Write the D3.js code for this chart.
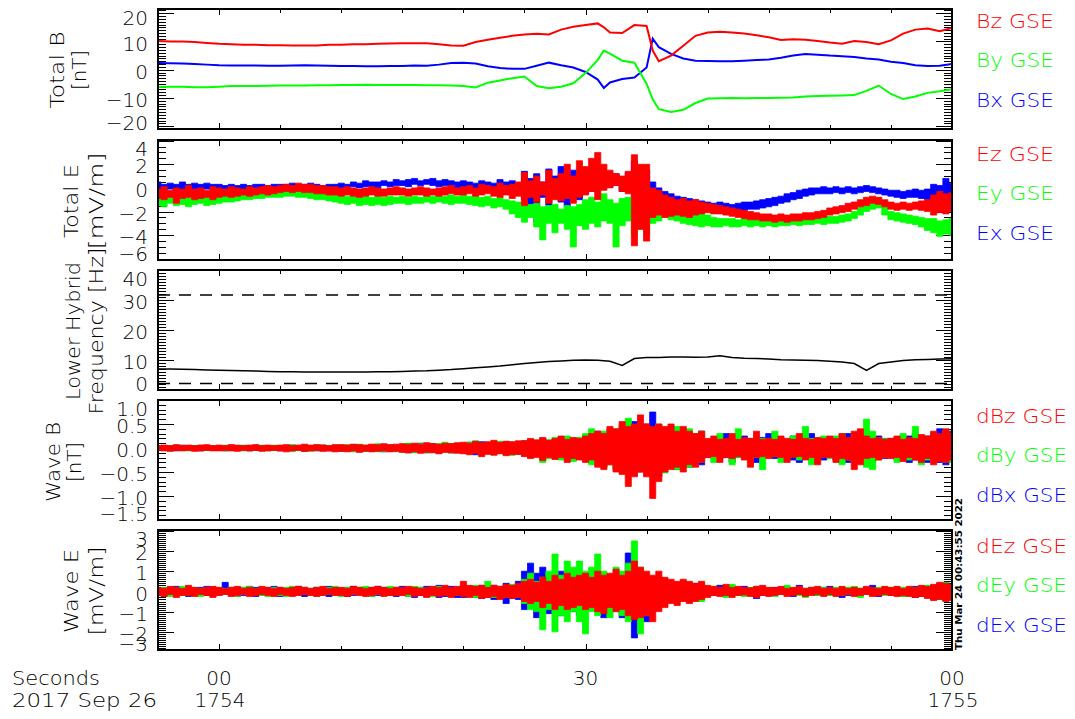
<!DOCTYPE html>
<html>
<head>
<meta charset="utf-8">
<script src="https://cdn.jsdelivr.net/npm/d3@7"></script>
<style>
  body { margin: 0; background: #fff; }
  svg text { font-family: "DejaVu Sans", sans-serif; font-weight: 200; font-size: 20px; fill: #000; }
</style>
</head>
<body>
<svg id="chart" width="1075" height="719"></svg>
<script>
// ---------------------------------------------------------------
// Time axis: seconds relative to 17:54:00 UT, 2017 Sep 26
// ---------------------------------------------------------------
const xTickMinor = [-5,0,5,10,15,20,25,30,35,40,45,50,55,60];
const xTickMajor = [0, 30, 60];
const xTickText1 = ["00", "30", "00"];
const xTickText2 = ["1754", "", "1755"];

// Magnetic field (nT), sampled once a second with two extra samples at the sharp turns
const bTimes = [-5,-4,-3,-2,-1,0,1,2,3,4,5,6,7,8,9,10,11,12,13,14,15,16,17,18,19,20,
  21,22,23,24,25,26,27,28,29,30,31,31.5,32,33,34,35,35.5,36,37,38,39,40,41,42,43,44,
  45,46,47,48,49,50,51,52,53,54,55,56,57,58,59,60];
const bz = [10.2,10,10,9.8,9.5,9.2,9,8.8,8.8,8.7,
  8.7,8.6,8.6,8.6,8.8,8.8,9,9,9.2,9.3,
  9.4,9.4,9.4,9,8.6,8.5,9.8,10.6,11.3,12,
  12.5,12.7,12.5,14.2,15.2,15.8,16.4, 15, 13.2,13,15.8,15.5, 6.8,
  3,5,8.5,12,13.2,13.4,13.2,12.8,12.2,
  11.5,10.5,10.8,10.6,10.2,9.6,9.2,10.2,9.8,9,
  10.4,12.8,14.2,14.6,13.6,14.8];
const by = [-6.1,-6,-6,-6.2,-6.2,-6,-5.8,-5.8,-5.8,-5.7,
  -5.6,-5.6,-5.6,-5.5,-5.5,-5.4,-5.4,-5.3,-5.4,-5.4,
  -5.4,-5.4,-5.5,-5.5,-5.6,-5.8,-6.3,-4.6,-3.8,-3,
  -2.4,-5.8,-6.6,-6,-4.8,-1.2,3.5, 6.8, 5.7,3.2,2.5,-5, -10.5,
  -14,-15,-14.2,-11.8,-10.2,-10.1,-10,-10.1,-10,
  -10,-9.9,-9.8,-9.5,-9.3,-9.2,-9.1,-9,-7.5,-5.6,
  -8.6,-10.4,-9.5,-8.2,-7.6,-6.9];
const bx = [2.4,2.3,2.2,2,1.8,1.6,1.5,1.5,1.5,1.4,
  1.4,1.5,1.6,1.5,1.4,1.3,1.3,1.2,1.2,1.3,
  1.3,1.5,1.4,1.8,2.4,2.5,2.2,1.2,0.6,0.3,
  0.3,1.4,2.5,1.6,0.8,-0.8,-3.5, -6.5, -4.5,-3.3,-2.8,0.8, 11,
  8,5.6,4,3.2,3.1,3,3,3.2,3.4,
  3.6,4.2,5,5.6,5.3,5,4.8,4.5,4,3.6,
  2.8,2.4,1.6,1.3,1.4,2];

// Lower hybrid frequency (Hz), once a second, and the two reference levels
const lhTimes = d3.range(-5, 61);
const lhFreq = [7,7,6.9,6.8,6.7,6.6,6.5,6.4,6.3,6.2,
  6.1,6.1,6,6,6,6,6,6,6.1,6.1,
  6.2,6.3,6.4,6.6,6.8,7.1,7.4,7.7,8,8.4,
  8.8,9.2,9.5,9.7,9.9,10,9.9,9.6,8.2,10.5,
  10.8,10.8,11,11,10.9,11,11.4,10.8,10.6,10.5,
  10.3,10.1,10,9.9,9.8,9.6,9.3,8.8,6.5,8.8,
  9.3,9.8,10.1,10.2,10.3,10.4];
const lhUpper = [31.7, 31.7];
const lhLower = [2.2, 2.2];
const lhRefTimes = [-5, 60];

// Electric field and wave data: min/max envelope per half second
const wTimes = d3.range(0, 131).map(i => -5 + i * 0.5);

const exHi = [.5,.3,.4,.3,.5,.3,.4,.3,.4,.3,
 .3,.2,.3,.2,.3,.2,.3,.3,.2,.3,
 .3,.3,.4,.3,.3,.4,.3,.2,.3,.3,
 .4,.3,.5,.4,.6,.5,.5,.6,.5,.7,
 .6,.7,.8,.6,.7,.8,.6,.7,.6,.5,
 .6,.5,.4,.6,.5,.4,.7,.5,.6,.4,
 1.4,.8,1.2,.5,1.6,1.0,1.8,.9,1.5,.6,
 1.2,1.5,.9,1.3,1.0,1.2,.8,1.3,2.3,1.6,
 1.5,.5,0,-.3,-.5,-.7,-.8,-.9,-1.0,-1.1,
 -1.2,-1.3,-1.2,-1.3,-1.4,-1.3,-1.2,-1.2,-1.1,-1.0,
 -.9,-.8,-.7,-.5,-.4,-.2,-.1,0,0,.1,
 0,.1,0,.1,0,.1,.2,.1,0,-.1,
 -.2,-.2,-.3,-.2,-.1,-.2,-.1,.3,.2,.8,
 .4];
const exLo = [-.2,-.3,-.1,-.3,-.2,-.1,-.3,-.2,-.1,-.2,
 -.2,-.1,-.2,-.1,-.2,-.1,-.1,-.2,-.1,-.1,
 -.1,0,-.1,0,-.1,0,-.1,-.1,0,-.1,
 0,-.1,.1,0,.1,.1,0,.2,.1,.2,
 .2,.1,.3,.2,.3,.2,.1,.2,.1,0,
 0,-.2,-.1,-.3,-.2,-.1,-.3,-.4,-.2,-.3,
 -1.0,-1.4,-2.9,-.8,-1.5,-.9,-1.2,-1.6,-.8,-1.0,
 -.5,-.3,-.2,0,.1,.2,-.3,.1,-1.0,-1.6,
 -1.2,-2.5,-1.8,-2.2,-2.0,-1.9,-2.0,-2.1,-2.0,-2.1,
 -2.0,-2.1,-2.0,-2.1,-2.0,-1.9,-1.9,-1.8,-1.8,-1.7,
 -1.6,-1.5,-1.3,-1.2,-1.0,-.9,-.7,-.6,-.5,-.5,
 -.5,-.4,-.5,-.4,-.5,-.4,-.3,-.4,-.5,-.6,
 -.7,-.8,-.9,-.8,-.8,-.9,-1.0,-1.2,-.9,-1.1,
 -.9];
const eyHi = [-.6,-.8,-.5,-.7,-.6,-.8,-.6,-.7,-.5,-.6,
 -.5,-.6,-.5,-.4,-.5,-.4,-.3,-.4,-.3,-.2,
 -.1,-.2,0,-.1,-.2,-.1,-.2,-.3,-.4,-.5,
 -.6,-.7,-.6,-.8,-.7,-.8,-.7,-.8,-.7,-.8,
 -.7,-.8,-.7,-.8,-.6,-.7,-.6,-.7,-.6,-.7,
 -.6,-.7,-.6,-.8,-.7,-.9,-.8,-1.0,-1.1,-1.2,
 -1.2,-1.4,-1.3,-1.6,-1.5,-1.4,-1.8,-1.5,-1.6,-1.4,
 -1.0,-.8,-1.2,-.5,-1.0,-1.3,-.9,-.8,.5,1.0,
 .2,-.3,-.5,-.8,-1.0,-1.2,-1.4,-1.5,-1.6,-1.7,
 -2.3,-2.5,-2.6,-2.6,-2.6,-2.7,-2.6,-2.7,-2.6,-2.7,
 -2.6,-2.7,-2.6,-2.6,-2.5,-2.6,-2.5,-2.5,-2.4,-2.5,
 -2.4,-2.4,-2.3,-2.2,-2.0,-1.6,-1.2,-1.0,-.8,-1.5,
 -2.0,-2.1,-2.2,-2.3,-2.4,-2.5,-2.6,-2.6,-2.8,-2.7,
 -2.6];
const eyLo = [-1.5,-1.6,-1.3,-1.5,-1.4,-1.6,-1.4,-1.3,-1.5,-1.4,
 -1.3,-1.2,-1.2,-1.1,-1.0,-1.0,-.9,-.9,-.8,-.8,
 -.8,-.7,-.7,-.8,-.8,-.9,-1.0,-1.0,-1.1,-1.2,
 -1.3,-1.4,-1.3,-1.5,-1.4,-1.5,-1.4,-1.5,-1.4,-1.3,
 -1.3,-1.4,-1.3,-1.3,-1.2,-1.3,-1.2,-1.3,-1.4,-1.3,
 -1.3,-1.4,-1.5,-1.6,-1.5,-1.7,-1.6,-1.8,-2.2,-2.5,
 -2.9,-2.5,-3.3,-4.4,-3.0,-3.8,-3.0,-3.5,-5.0,-3.2,
 -3.5,-3.0,-3.3,-2.8,-3.0,-5.0,-3.2,-2.8,-4.0,-3.5,
 -4.0,-3.0,-2.8,-2.5,-2.7,-2.8,-3.0,-3.1,-3.2,-3.3,
 -3.2,-3.3,-3.3,-3.2,-3.3,-3.3,-3.2,-3.3,-3.2,-3.3,
 -3.2,-3.3,-3.2,-3.2,-3.1,-3.2,-3.1,-3.1,-3.0,-3.1,
 -3.0,-3.0,-2.9,-2.8,-2.6,-2.3,-2.0,-1.8,-1.7,-2.3,
 -2.7,-2.8,-2.9,-3.0,-3.1,-3.3,-3.6,-3.8,-4.1,-3.9,
 -4.0];
const ezHi = [-.1,.1,-.2,0,-.1,.2,-.1,0,-.2,.1,
 0,-.1,.1,0,-.1,.1,0,.1,.2,.1,
 .2,.3,.2,.4,.3,.3,.2,.2,.1,.1,
 0,.1,0,-.1,0,.1,0,-.1,0,.1,
 0,-.1,0,.1,0,-.1,0,.1,.2,0,
 .1,.2,0,.3,.2,.1,.4,.2,.3,.5,
 1.3,.6,1.0,.5,1.5,.8,1.2,2.0,1.0,2.3,
 1.8,2.5,3.0,2.0,1.5,1.2,1.0,1.4,2.8,2.0,
 2.0,0,-.2,-.6,-.8,-1.0,-.9,-1.1,-1.0,-1.2,
 -1.3,-1.4,-1.5,-1.6,-1.7,-1.8,-1.9,-2.0,-2.1,-2.2,
 -2.2,-2.3,-2.2,-2.3,-2.2,-2.2,-2.1,-2.1,-2.0,-1.9,
 -1.7,-1.6,-1.5,-1.3,-1.2,-1.0,-.8,-.7,-.8,-1.0,
 -1.2,-1.3,-1.2,-1.3,-1.2,-1.1,-1.0,-.6,-.3,-.5,
 -.4];
const ezLo = [-.9,-1.0,-.8,-1.3,-.9,-.8,-1.0,-.9,-.8,-1.0,
 -.8,-.7,-.8,-.7,-.6,-.7,-.6,-.5,-.6,-.5,
 -.4,-.3,-.4,-.3,-.4,-.4,-.5,-.5,-.6,-.6,
 -.7,-.6,-.7,-.8,-.7,-.6,-.7,-.7,-.6,-.6,
 -.6,-.7,-.6,-.6,-.7,-.6,-.7,-.6,-.5,-.6,
 -.6,-.5,-.7,-.6,-.5,-.7,-.8,-.6,-.9,-.7,
 -1.5,-.8,-1.2,-.6,-1.3,-1.0,-1.1,-.9,-1.3,-.8,
 -.6,-.3,-1.0,-.2,0,.2,-.3,-.5,-4.9,-3.5,
 -4.5,-2.5,-2.3,-2.5,-2.4,-2.3,-2.4,-2.5,-2.3,-2.2,
 -2.1,-2.2,-2.2,-2.3,-2.4,-2.5,-2.6,-2.7,-2.7,-2.8,
 -2.8,-2.9,-2.8,-2.9,-2.8,-2.8,-2.7,-2.7,-2.6,-2.5,
 -2.3,-2.2,-2.1,-2.0,-1.8,-1.6,-1.5,-1.3,-1.4,-1.6,
 -1.8,-1.9,-1.8,-1.9,-1.8,-1.9,-2.0,-2.3,-2.1,-2.2,
 -2.0];

const dbxHi = [.04,.05,.04,.05,.06,.04,.05,.04,.05,.04,
 .05,.04,.06,.05,.04,.05,.06,.04,.05,.05,
 .05,.04,.06,.05,.06,.05,.04,.06,.05,.05,
 .06,.05,.07,.06,.05,.07,.06,.05,.07,.06,
 .07,.09,.08,.1,.07,.09,.08,.1,.09,.08,
 .1,.12,.1,.13,.11,.12,.1,.13,.12,.1,
 .15,.18,.14,.2,.16,.18,.22,.2,.18,.2,
 .25,.3,.35,.3,.4,.35,.45,.5,.55,.45,
 .5,.75,.45,.4,.45,.35,.4,.35,.3,.35,
 .18,.2,.18,.3,.2,.18,.25,.2,.18,.22,
 .3,.18,.2,.18,.25,.2,.18,.3,.2,.18,
 .22,.2,.25,.3,.2,.25,.22,.2,.25,.2,
 .2,.22,.2,.25,.3,.2,.25,.3,.4,.35,
 .35];
const dbxLo = [-.05,-.04,-.05,-.06,-.04,-.05,-.04,-.06,-.05,-.04,
 -.05,-.06,-.05,-.04,-.05,-.06,-.05,-.04,-.05,-.05,
 -.06,-.05,-.06,-.05,-.07,-.05,-.06,-.05,-.06,-.05,
 -.07,-.06,-.07,-.08,-.06,-.07,-.06,-.08,-.07,-.06,
 -.08,-.1,-.09,-.08,-.1,-.09,-.1,-.08,-.1,-.09,
 -.1,-.12,-.14,-.1,-.12,-.13,-.11,-.14,-.12,-.13,
 -.15,-.18,-.15,-.22,-.18,-.2,-.22,-.2,-.25,-.2,
 -.25,-.3,-.35,-.4,-.3,-.45,-.5,-.45,-.55,-.5,
 -.5,-.55,-.6,-.45,-.4,-.45,-.35,-.4,-.3,-.35,
 -.2,-.18,-.22,-.2,-.3,-.2,-.18,-.2,-.3,-.2,
 -.18,-.22,-.2,-.18,-.25,-.3,-.2,-.18,-.2,-.25,
 -.2,-.25,-.2,-.3,-.25,-.2,-.25,-.3,-.2,-.22,
 -.2,-.25,-.2,-.3,-.25,-.2,-.3,-.25,-.3,-.35,
 -.3];
const dbyHi = [.04,.05,.04,.06,.05,.04,.05,.06,.05,.04,
 .05,.06,.05,.04,.06,.05,.04,.06,.05,.06,
 .05,.06,.07,.05,.06,.05,.07,.06,.05,.06,
 .06,.07,.06,.08,.06,.07,.09,.06,.07,.06,
 .08,.1,.07,.09,.1,.08,.09,.12,.08,.1,
 .1,.12,.15,.1,.12,.1,.14,.11,.12,.1,
 .14,.18,.15,.2,.17,.22,.18,.25,.2,.22,
 .3,.4,.25,.35,.3,.4,.5,.62,.45,.5,
 .45,.4,.5,.4,.35,.45,.3,.4,.3,.35,
 .18,.2,.3,.18,.2,.4,.2,.18,.25,.2,
 .2,.35,.18,.2,.25,.18,.45,.2,.18,.25,
 .2,.25,.3,.2,.3,.35,.6,.35,.22,.2,
 .18,.2,.3,.2,.45,.22,.2,.3,.25,.35,
 .3];
const dbyLo = [-.04,-.05,-.06,-.04,-.05,-.06,-.04,-.05,-.05,-.04,
 -.05,-.06,-.04,-.05,-.06,-.05,-.04,-.05,-.06,-.05,
 -.05,-.06,-.07,-.05,-.06,-.07,-.05,-.06,-.05,-.07,
 -.06,-.07,-.08,-.06,-.07,-.06,-.08,-.07,-.06,-.08,
 -.08,-.09,-.1,-.08,-.1,-.09,-.11,-.08,-.1,-.09,
 -.11,-.12,-.1,-.15,-.12,-.14,-.1,-.13,-.15,-.12,
 -.15,-.2,-.18,-.3,-.22,-.2,-.25,-.2,-.28,-.22,
 -.28,-.35,-.3,-.4,-.35,-.45,-.4,-.5,-.55,-.45,
 -.5,-.6,-.45,-.52,-.4,-.45,-.35,-.4,-.35,-.3,
 -.18,-.3,-.2,-.18,-.35,-.2,-.18,-.25,-.2,-.45,
 -.2,-.18,-.3,-.2,-.18,-.25,-.2,-.35,-.2,-.18,
 -.22,-.2,-.35,-.25,-.3,-.3,-.4,-.45,-.25,-.2,
 -.2,-.3,-.2,-.25,-.2,-.35,-.25,-.3,-.25,-.3,
 -.3];
const dbzHi = [.05,.06,.05,.07,.05,.06,.05,.06,.07,.05,
 .06,.05,.07,.06,.05,.06,.07,.05,.06,.05,
 .06,.07,.05,.06,.08,.06,.07,.06,.05,.07,
 .07,.06,.08,.07,.06,.08,.07,.09,.07,.08,
 .09,.08,.1,.08,.11,.09,.08,.1,.09,.11,
 .12,.1,.14,.11,.13,.16,.12,.14,.13,.15,
 .15,.2,.17,.22,.16,.2,.25,.18,.22,.2,
 .25,.3,.35,.3,.45,.4,.55,.45,.5,.69,
 .5,.45,.5,.45,.5,.35,.45,.35,.3,.35,
 .2,.25,.18,.2,.3,.18,.22,.2,.35,.18,
 .2,.18,.25,.2,.18,.3,.2,.18,.22,.2,
 .25,.2,.3,.22,.35,.4,.25,.2,.22,.18,
 .2,.25,.18,.22,.2,.28,.25,.35,.3,.4,
 .3];
const dbzLo = [-.05,-.06,-.07,-.05,-.06,-.05,-.07,-.06,-.05,-.06,
 -.06,-.05,-.06,-.07,-.05,-.06,-.05,-.07,-.06,-.05,
 -.06,-.08,-.06,-.05,-.07,-.06,-.05,-.07,-.06,-.08,
 -.07,-.08,-.06,-.09,-.07,-.08,-.07,-.06,-.08,-.07,
 -.09,-.1,-.08,-.11,-.09,-.1,-.12,-.09,-.1,-.11,
 -.12,-.14,-.11,-.18,-.13,-.15,-.12,-.16,-.14,-.13,
 -.18,-.22,-.2,-.26,-.2,-.24,-.2,-.3,-.22,-.25,
 -.3,-.25,-.4,-.45,-.35,-.5,-.55,-.8,-.6,-.5,
 -.6,-1.05,-.7,-.5,-.45,-.4,-.5,-.35,-.4,-.3,
 -.2,-.18,-.3,-.2,-.22,-.18,-.25,-.4,-.2,-.18,
 -.22,-.18,-.2,-.3,-.2,-.18,-.25,-.2,-.35,-.2,
 -.2,-.3,-.22,-.25,-.45,-.35,-.22,-.2,-.25,-.2,
 -.22,-.2,-.28,-.2,-.25,-.3,-.22,-.35,-.28,-.3,
 -.25];

const dexHi = [.2,.15,.2,.25,.15,.2,.15,.2,.25,.2,
 .15,.45,.2,.15,.2,.25,.2,.15,.2,.25,
 .2,.15,.2,.25,.2,.15,.2,.15,.25,.2,
 .15,.2,.25,.2,.15,.2,.25,.2,.15,.2,
 .25,.2,.15,.2,.25,.2,.3,.2,.25,.2,
 .3,.25,.2,.3,.25,.3,.25,.4,.3,.5,
 1.0,1.4,.9,1.2,.8,.9,1.0,.7,.9,.8,
 .7,.8,.6,.8,.7,.9,.8,1.9,1.0,.9,
 .7,.6,.5,.5,.4,.4,.4,.3,.4,.3,
 .2,.15,.3,.2,.15,.2,.25,.15,.2,.15,
 .15,.2,.15,.2,.15,.3,.15,.2,.15,.2,
 .25,.15,.2,.15,.2,.15,.2,.3,.15,.2,
 .15,.2,.15,.2,.25,.2,.25,.3,.4,.45,
 .35];
const dexLo = [-.2,-.25,-.2,-.15,-.2,-.25,-.2,-.15,-.2,-.25,
 -.2,-.15,-.2,-.25,-.2,-.15,-.25,-.2,-.15,-.2,
 -.25,-.2,-.15,-.2,-.25,-.2,-.15,-.2,-.25,-.2,
 -.2,-.25,-.2,-.15,-.2,-.25,-.2,-.15,-.2,-.25,
 -.2,-.25,-.3,-.2,-.25,-.2,-.3,-.25,-.2,-.3,
 -.3,-.25,-.3,-.35,-.3,-.4,-.3,-.6,-.35,-.4,
 -.9,-.8,-1.3,-.9,-1.1,-.8,-1.2,-.9,-1.0,-1.2,
 -.9,-.8,-1.0,-1.3,-.9,-1.0,-1.3,-1.0,-2.3,-1.5,
 -1.5,-1.0,-.7,-.6,-.5,-.5,-.4,-.5,-.4,-.4,
 -.15,-.2,-.15,-.25,-.2,-.15,-.2,-.15,-.35,-.2,
 -.15,-.2,-.15,-.2,-.25,-.15,-.2,-.15,-.2,-.15,
 -.2,-.15,-.3,-.2,-.15,-.2,-.15,-.2,-.25,-.15,
 -.2,-.15,-.25,-.2,-.3,-.25,-.3,-.4,-.35,-.45,
 -.35];
const deyHi = [.15,.2,.15,.2,.25,.15,.2,.15,.2,.15,
 .2,.15,.2,.15,.2,.25,.15,.2,.15,.2,
 .15,.2,.25,.15,.2,.15,.2,.15,.2,.25,
 .15,.2,.15,.2,.25,.15,.2,.15,.25,.2,
 .15,.2,.25,.2,.15,.2,.25,.2,.15,.2,
 .25,.2,.3,.25,.5,.3,.25,.3,.35,.3,
 .6,.9,.5,.7,1.0,1.85,.8,1.5,1.2,1.5,
 1.0,1.2,1.85,1.0,.8,1.2,1.0,1.4,2.5,1.2,
 .8,.6,.7,.5,.5,.4,.5,.4,.3,.4,
 .2,.25,.15,.2,.35,.2,.15,.2,.25,.15,
 .2,.15,.2,.3,.15,.2,.15,.2,.15,.2,
 .15,.2,.15,.2,.25,.15,.2,.15,.2,.15,
 .2,.15,.2,.15,.2,.25,.3,.25,.35,.45,
 .3];
const deyLo = [-.15,-.2,-.25,-.15,-.2,-.15,-.2,-.25,-.15,-.2,
 -.2,-.15,-.2,-.25,-.15,-.2,-.15,-.2,-.25,-.15,
 -.2,-.25,-.15,-.2,-.15,-.2,-.25,-.2,-.15,-.2,
 -.25,-.2,-.15,-.2,-.2,-.25,-.15,-.2,-.2,-.15,
 -.2,-.25,-.2,-.15,-.2,-.25,-.2,-.15,-.25,-.2,
 -.2,-.25,-.3,-.2,-.25,-.3,-.25,-.3,-.25,-.3,
 -.6,-.9,-1.0,-1.9,-.9,-2.0,-1.2,-1.5,-1.0,-1.5,
 -2.1,-1.0,-1.2,-.9,-1.3,-1.0,-1.2,-1.5,-1.0,-2.1,
 -1.2,-1.0,-.8,-.6,-.5,-.6,-.5,-.4,-.4,-.5,
 -.2,-.15,-.2,-.3,-.15,-.2,-.25,-.15,-.2,-.15,
 -.2,-.25,-.15,-.2,-.15,-.2,-.3,-.15,-.2,-.15,
 -.2,-.15,-.2,-.15,-.2,-.3,-.15,-.2,-.15,-.2,
 -.15,-.2,-.25,-.2,-.25,-.2,-.3,-.35,-.4,-.35,
 -.35];
const dezHi = [.2,.15,.25,.2,.15,.3,.2,.15,.2,.25,
 .2,.15,.2,.25,.15,.2,.15,.25,.2,.15,
 .2,.15,.2,.25,.2,.15,.2,.25,.15,.2,
 .2,.15,.25,.2,.15,.2,.25,.2,.15,.2,
 .2,.25,.2,.15,.2,.25,.2,.3,.2,.25,
 .5,.3,.25,.3,.2,.3,.25,.35,.3,.4,
 .5,.6,.45,.7,.5,.8,.6,.9,.7,.8,
 .9,.7,1.0,.8,.9,1.1,.8,1.0,1.5,1.2,
 1.0,.8,1.0,.7,.6,.5,.6,.5,.4,.5,
 .3,.25,.2,.35,.2,.25,.2,.18,.25,.3,
 .2,.18,.25,.15,.2,.25,.15,.2,.25,.15,
 .2,.15,.25,.15,.2,.15,.25,.2,.15,.25,
 .2,.25,.15,.25,.2,.3,.25,.35,.45,.4,
 .35];
const dezLo = [-.2,-.25,-.15,-.3,-.2,-.2,-.25,-.15,-.2,-.3,
 -.2,-.15,-.25,-.2,-.15,-.25,-.2,-.15,-.2,-.25,
 -.15,-.2,-.25,-.2,-.15,-.2,-.25,-.2,-.15,-.2,
 -.2,-.25,-.15,-.2,-.25,-.2,-.15,-.25,-.2,-.2,
 -.2,-.15,-.25,-.2,-.3,-.2,-.25,-.2,-.3,-.2,
 -.25,-.3,-.2,-.35,-.3,-.25,-.4,-.3,-.35,-.3,
 -.5,-.6,-.5,-.8,-.6,-.9,-.7,-.9,-.8,-.7,
 -.9,-.8,-1.0,-1.1,-.8,-1.0,-.9,-1.2,-1.4,-1.3,
 -1.2,-1.5,-1.0,-.8,-.6,-.7,-.5,-.6,-.5,-.4,
 -.3,-.2,-.25,-.2,-.3,-.2,-.18,-.25,-.3,-.2,
 -.25,-.2,-.15,-.25,-.2,-.15,-.25,-.2,-.15,-.25,
 -.15,-.25,-.2,-.15,-.25,-.2,-.15,-.25,-.2,-.15,
 -.2,-.25,-.2,-.25,-.3,-.25,-.35,-.45,-.4,-.5,
 -.45];

// Axis ticks for each panel
const bTicks = [-20, -10, 0, 10, 20];
const eTicks = [-6, -4, -2, 0, 2, 4];
const lhTicks = [0, 10, 20, 30, 40];
const wbTicks = [-1.5, -1.0, -0.5, 0, 0.5, 1.0];
const weTicks = [-3, -2, -1, 0, 1, 2, 3];

const RED = "#ff0000", GREEN = "#00ff00", BLUE = "#0000ff";

// ---------------------------------------------------------------
const svg = d3.select("#chart");
const X0 = 158, X1 = 952, PH = 120;
const x = d3.scaleLinear().domain([-5, 60]).range([X0, X1]);
const minus = s => s.replace("-", "\u2212");

const panels = [
  { top: 9,   domain: [-21, 21.5],   ticks: bTicks,  minor: 1,   fmt: d3.format("d"),
    titles: [["Total B", 64, 77], ["[nT]", 86, 40]], titleY: 70,
    legend: [["Bz GSE", RED], ["By GSE", GREEN], ["Bx GSE", BLUE]], legendY: 28 },
  { top: 140, domain: [-6.1, 4.05],  ticks: eTicks,  minor: 0.5, fmt: d3.format("d"),
    titles: [["Total E", 78, 74], ["[mV/m]", 103, 97]], titleY: 201,
    legend: [["Ez GSE", RED], ["Ey GSE", GREEN], ["Ex GSE", BLUE]], legendY: 161 },
  { top: 270, domain: [0, 40],       ticks: lhTicks, minor: 1,   fmt: d3.format("d"),
    titles: [["Lower Hybrid", 80, 138], ["Frequency [Hz]", 103, 167]], titleY: 331,
    legend: [], legendY: 0 },
  { top: 400, domain: [-1.5, 1.0],   ticks: wbTicks, minor: 0.1, fmt: d3.format(".1f"),
    titles: [["Wave B", 60, 80], ["[nT]", 81, 40]], titleY: 462,
    legend: [["dBz GSE", RED], ["dBy GSE", GREEN], ["dBx GSE", BLUE]], legendY: 423 },
  { top: 530, domain: [-2.9, 3.04],  ticks: weTicks, minor: 0.1, fmt: d3.format("d"),
    titles: [["Wave E", 78, 84], ["[mV/m]", 103, 89]], titleY: 591,
    legend: [["dEz GSE", RED], ["dEy GSE", GREEN], ["dEx GSE", BLUE]], legendY: 553 }
];

const defs = svg.append("defs");

panels.forEach((p, pi) => {
  const y = d3.scaleLinear().domain(p.domain).range([p.top + PH, p.top]);
  p.y = y;
  const g = svg.append("g");

  defs.append("clipPath").attr("id", "clip" + pi)
    .append("rect").attr("x", X0).attr("y", p.top).attr("width", X1 - X0).attr("height", PH);

  // y ticks: minor + major, on both sides, pointing inward
  const [d0, d1] = p.domain;
  const minors = d3.range(Math.ceil(d0 / p.minor - 1e-6), Math.floor(d1 / p.minor + 1e-6) + 1)
    .map(k => k * p.minor);
  const tickG = g.append("g").attr("stroke", "#000").attr("stroke-width", 1);
  minors.forEach(v => {
    const yy = Math.round(y(v)) + 0.5;
    tickG.append("line").attr("x1", X0).attr("x2", X0 + 8).attr("y1", yy).attr("y2", yy);
    tickG.append("line").attr("x1", X1).attr("x2", X1 - 8).attr("y1", yy).attr("y2", yy);
  });
  p.ticks.forEach(v => {
    if (v < d0 - 1e-6 || v > d1 + 1e-6) return;
    const yy = Math.round(y(v)) + 0.5;
    tickG.append("line").attr("x1", X0).attr("x2", X0 + 16).attr("y1", yy).attr("y2", yy);
    tickG.append("line").attr("x1", X1).attr("x2", X1 - 16).attr("y1", yy).attr("y2", yy);
  });
  // time ticks on top and bottom edges
  xTickMinor.forEach(t => {
    const len = xTickMajor.includes(t) ? 6 : 4;
    const xx = Math.round(x(t)) + 0.5;
    tickG.append("line").attr("x1", xx).attr("x2", xx).attr("y1", p.top).attr("y2", p.top + len);
    tickG.append("line").attr("x1", xx).attr("x2", xx).attr("y1", p.top + PH).attr("y2", p.top + PH - len);
  });

  // tick labels, kept inside the panel height
  p.ticks.forEach(v => {
    const yy = Math.max(p.top + 9, Math.min(p.top + PH - 6, y(v) + 2));
    g.append("text").attr("x", 148).attr("y", yy).attr("dy", "0.36em")
      .attr("text-anchor", "end").text(minus(p.fmt(v)));
  });

  // axis titles, rotated
  p.titles.forEach(([txt, bx, len]) => {
    g.append("text")
      .attr("transform", `translate(${bx},${p.titleY}) rotate(-90)`)
      .attr("text-anchor", "middle")
      .attr("textLength", len).attr("lengthAdjust", "spacingAndGlyphs")
      .text(txt);
  });

  // legend labels on the right
  p.legend.forEach(([txt, col], k) => {
    g.append("text").attr("x", 976).attr("y", p.legendY + k * 39.3)
      .attr("fill", col).style("fill", col)
      .attr("textLength", txt.length === 6 ? 78 : 91).attr("lengthAdjust", "spacingAndGlyphs")
      .text(txt);
  });

  p.dataG = svg.append("g").attr("clip-path", `url(#clip${pi})`);
});

// ---------------------------------------------------------------
// Data
// ---------------------------------------------------------------
function drawLine(p, times, vals, color, width, dash) {
  const line = d3.line().x((d, i) => x(times[i])).y(d => p.y(d));
  const path = p.dataG.append("path").attr("d", line(vals))
    .attr("fill", "none").attr("stroke", color).attr("stroke-width", width)
    .attr("stroke-linejoin", "miter");
  if (dash) path.attr("stroke-dasharray", dash);
}

// Dense time series shown as its min/max envelope, one step per sample
function drawEnvelope(p, lo, hi, color) {
  const area = d3.area()
    .curve(d3.curveStep)
    .x((d, i) => x(wTimes[i]))
    .y0((d, i) => p.y(lo[i]))
    .y1((d, i) => p.y(hi[i]));
  p.dataG.append("path").attr("d", area(lo)).attr("fill", color)
    .attr("stroke", color).attr("stroke-width", 0.8);
}

// Panel 1: total magnetic field
drawLine(panels[0], bTimes, bx, BLUE, 2);
drawLine(panels[0], bTimes, by, GREEN, 2);
drawLine(panels[0], bTimes, bz, RED, 2);

// Panel 2: total electric field
drawEnvelope(panels[1], exLo, exHi, BLUE);
drawEnvelope(panels[1], eyLo, eyHi, GREEN);
drawEnvelope(panels[1], ezLo, ezHi, RED);

// Panel 3: lower hybrid frequency with reference levels
drawLine(panels[2], lhRefTimes, lhUpper, "#000", 1.5, "12,9");
drawLine(panels[2], lhRefTimes, lhLower, "#000", 1.5, "12,9");
drawLine(panels[2], lhTimes, lhFreq, "#000", 1.5);

// Panel 4: wave magnetic field
drawEnvelope(panels[3], dbxLo, dbxHi, BLUE);
drawEnvelope(panels[3], dbyLo, dbyHi, GREEN);
drawEnvelope(panels[3], dbzLo, dbzHi, RED);

// Panel 5: wave electric field
drawEnvelope(panels[4], dexLo, dexHi, BLUE);
drawEnvelope(panels[4], deyLo, deyHi, GREEN);
drawEnvelope(panels[4], dezLo, dezHi, RED);

// panel frames on top
panels.forEach(p => {
  svg.append("rect").attr("x", X0).attr("y", p.top).attr("width", X1 - X0).attr("height", PH)
    .attr("fill", "none").attr("stroke", "#000").attr("stroke-width", 2);
});

// ---------------------------------------------------------------
// Time axis labels
// ---------------------------------------------------------------
svg.append("text").attr("x", 12).attr("y", 685)
  .attr("textLength", 88).attr("lengthAdjust", "spacingAndGlyphs").text("Seconds");
svg.append("text").attr("x", 12).attr("y", 707)
  .attr("textLength", 145).attr("lengthAdjust", "spacingAndGlyphs").text("2017 Sep 26");
xTickMajor.forEach((t, i) => {
  svg.append("text").attr("x", x(t)).attr("y", 685).attr("text-anchor", "middle").text(xTickText1[i]);
  if (xTickText2[i]) {
    svg.append("text").attr("x", x(t) + 1).attr("y", 707).attr("text-anchor", "middle").text(xTickText2[i]);
  }
});

// creation stamp, written up the right edge
svg.append("text")
  .attr("transform", "translate(962,650) rotate(-90)")
  .style("font-size", "9px").style("font-weight", "bold")
  .attr("textLength", 152).attr("lengthAdjust", "spacingAndGlyphs")
  .text("Thu Mar 24 00:43:55 2022");
</script>
</body>
</html>
